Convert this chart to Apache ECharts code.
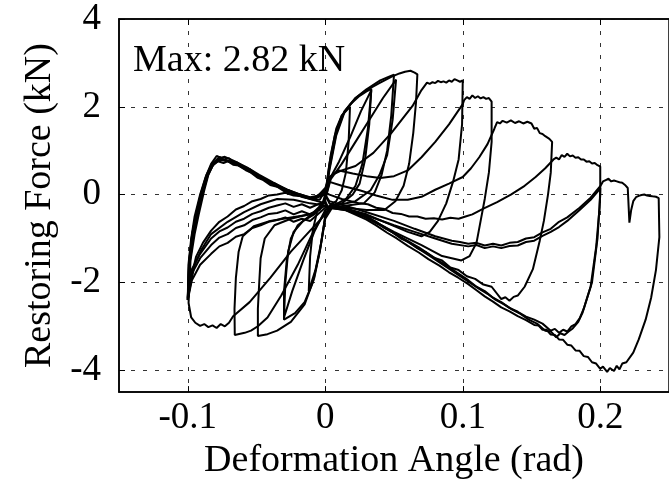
<!DOCTYPE html>
<html>
<head>
<meta charset="utf-8">
<script src="https://cdn.jsdelivr.net/npm/echarts@6/dist/echarts.min.js"></script>
<style>
html,body{margin:0;padding:0;background:#fff;}
#chart{width:669px;height:485px;}
</style>
</head>
<body>
<div id="chart"></div>
<script>
// Tick values
const xTicks = [-0.1, 0, 0.1, 0.2];
const yTicks = [-4, -2, 0, 2, 4];
const annotation = "Max: 2.82 kN";
const xTitle = "Deformation Angle (rad)";
const yTitle = "Restoring Force (kN)";

// Hysteresis cycles, [deformation angle (rad), restoring force (kN)]
const cycle1 = [[0,0],[0.004,0.9],[0.008,1.5],[0.012,1.8],[0.018,2.0],[0.017,1.2],[0.015,0.5],[0.012,0.1],[0.008,-0.15],[0.003,-0.25],[0,-0.5],[-0.003,-1.1],[-0.007,-1.7],[-0.012,-2.2],[-0.011,-1.4],[-0.009,-0.8],[-0.006,-0.4],[-0.002,-0.2],[0,0]];
const cycle2 = [[0,0],[0.003,0.7],[0.007,1.35],[0.012,1.8],[0.018,2.05],[0.025,2.25],[0.03,2.35],[0.0335,2.41],[0.032,1.6],[0.029,0.8],[0.025,0.25],[0.02,0.0],[0.012,-0.2],[0.004,-0.25],[0,-0.5],[-0.004,-1.3],[-0.009,-2.0],[-0.015,-2.45],[-0.022,-2.7],[-0.03,-2.85],[-0.03,-2.2],[-0.028,-1.5],[-0.025,-1.0],[-0.02,-0.7],[-0.012,-0.5],[-0.005,-0.35],[0,-0.1]];
const cycle3 = [[0,-0.1],[0.004,0.4],[0.01,0.75],[0.018,1.3],[0.026,1.9],[0.0335,2.38],[0.031,1.5],[0.027,0.7],[0.022,0.2],[0.015,-0.1],[0.006,-0.25],[0,-0.35],[-0.008,-0.85],[-0.016,-1.5],[-0.024,-2.2],[-0.03,-2.8],[-0.029,-2.0],[-0.027,-1.3],[-0.023,-0.85],[-0.016,-0.6],[-0.008,-0.45],[0,-0.1]];
const cycle4 = [[0,-0.1],[0.003,0.6],[0.008,1.4],[0.014,1.9],[0.022,2.2],[0.03,2.4],[0.04,2.6],[0.046,2.68],[0.05,2.73],[0.048,1.8],[0.045,1.0],[0.041,0.45],[0.036,0.05],[0.028,-0.2],[0.016,-0.25],[0.005,-0.3],[0,-0.55],[-0.004,-1.3],[-0.008,-1.9],[-0.015,-2.5],[-0.025,-2.9],[-0.035,-3.1],[-0.042,-3.18],[-0.049,-3.22],[-0.049,-2.6],[-0.048,-2.0],[-0.047,-1.45],[-0.044,-1.0],[-0.037,-0.7],[-0.025,-0.55],[-0.012,-0.45],[-0.004,-0.35],[0,-0.1]];
const cycle5 = [[0,-0.1],[0.004,0.35],[0.012,0.7],[0.022,1.2],[0.032,1.7],[0.042,2.2],[0.0515,2.62],[0.049,1.7],[0.045,0.9],[0.0395,0.45],[0.033,0.1],[0.022,-0.15],[0.008,-0.25],[0,-0.4],[-0.008,-0.8],[-0.02,-1.6],[-0.032,-2.3],[-0.042,-2.8],[-0.049,-3.0],[-0.054,-3.1],[-0.0586,-3.15],[-0.0658,-3.2],[-0.066,-2.6],[-0.065,-1.9],[-0.063,-1.3],[-0.06,-0.95],[-0.052,-0.72],[-0.04,-0.6],[-0.025,-0.52],[-0.01,-0.45],[0,-0.15]];
const cycle6 = [[0,-0.15],[0.003,0.55],[0.008,1.35],[0.014,1.88],[0.022,2.2],[0.03,2.38],[0.04,2.55],[0.048,2.68],[0.054,2.76],[0.058,2.8],[0.062,2.82],[0.065,2.78],[0.067,2.74],[0.066,2.1],[0.064,1.4],[0.061,0.7],[0.057,0.2],[0.051,-0.15],[0.043,-0.35],[0.03,-0.35],[0.015,-0.3],[0.004,-0.3],[0,-0.45],[-0.011,-0.82],[-0.025,-1.3],[-0.04,-1.9],[-0.055,-2.45],[-0.067,-2.77],[-0.07,-2.92],[-0.073,-3.0],[-0.076,-2.95],[-0.079,-3.04],[-0.082,-2.98],[-0.085,-3.02],[-0.088,-2.95],[-0.091,-2.99],[-0.0945,-2.92],[-0.0975,-2.8],[-0.0994,-2.47],[-0.098,-1.5],[-0.095,-0.9],[-0.092,-0.45],[-0.088,0.1],[-0.085,0.45],[-0.081,0.72],[-0.077,0.86],[-0.074,0.8],[-0.07,0.83],[-0.067,0.74],[-0.064,0.73],[-0.06,0.64],[-0.055,0.58],[-0.05,0.46],[-0.046,0.4],[-0.041,0.3],[-0.036,0.24],[-0.031,0.13],[-0.027,0.1],[-0.022,0.02],[-0.018,0.0],[-0.01,-0.1],[-0.004,-0.12],[0,0.1]];
const cycle7 = [[0,0.1],[0.005,0.45],[0.012,0.55],[0.022,0.65],[0.035,0.95],[0.048,1.4],[0.0635,2.02],[0.07,2.38],[0.074,2.55],[0.076,2.52],[0.078,2.56],[0.08,2.54],[0.082,2.59],[0.084,2.56],[0.086,2.58],[0.088,2.55],[0.09,2.6],[0.092,2.57],[0.094,2.63],[0.096,2.6],[0.098,2.57],[0.1,2.6],[0.0995,1.6],[0.097,0.8],[0.093,0.3],[0.088,-0.2],[0.082,-0.6],[0.076,-0.85],[0.07,-0.95],[0.06,-0.85],[0.045,-0.65],[0.03,-0.45],[0.015,-0.32],[0.004,-0.3],[0,-0.3],[-0.011,-0.6],[-0.017,-0.55],[-0.023,-0.62],[-0.029,-0.52],[-0.035,-0.58],[-0.041,-0.62],[-0.047,-0.7],[-0.053,-0.76],[-0.059,-0.9],[-0.065,-0.96],[-0.071,-1.1],[-0.077,-1.18],[-0.083,-1.35],[-0.091,-1.6],[-0.097,-1.95],[-0.1,-2.4],[-0.099,-1.6],[-0.097,-1.0],[-0.094,-0.5],[-0.09,0.0],[-0.086,0.4],[-0.082,0.66],[-0.078,0.76],[-0.074,0.72],[-0.071,0.76],[-0.067,0.68],[-0.063,0.66],[-0.058,0.56],[-0.054,0.5],[-0.049,0.38],[-0.045,0.33],[-0.04,0.22],[-0.035,0.18],[-0.03,0.08],[-0.025,0.04],[-0.016,-0.06],[-0.008,-0.12],[0,0.15]];
const cycle8 = [[0,0.15],[0.003,0.4],[0.01,0.55],[0.02,0.48],[0.03,0.42],[0.04,0.38],[0.05,0.42],[0.06,0.55],[0.07,0.85],[0.08,1.2],[0.09,1.6],[0.1,2.06],[0.101,2.15],[0.103,2.22],[0.105,2.18],[0.107,2.26],[0.109,2.2],[0.111,2.24],[0.113,2.19],[0.115,2.22],[0.117,2.18],[0.119,2.2],[0.121,2.12],[0.122,2.08],[0.121,1.2],[0.119,0.5],[0.116,-0.1],[0.113,-0.6],[0.11,-1.1],[0.105,-1.4],[0.099,-1.5],[0.085,-1.4],[0.07,-1.15],[0.05,-0.85],[0.03,-0.52],[0.015,-0.35],[0.003,-0.3],[0,-0.25],[-0.011,-0.45],[-0.017,-0.38],[-0.023,-0.45],[-0.029,-0.36],[-0.035,-0.42],[-0.041,-0.44],[-0.047,-0.52],[-0.053,-0.58],[-0.059,-0.7],[-0.065,-0.76],[-0.071,-0.9],[-0.077,-0.98],[-0.083,-1.15],[-0.091,-1.45],[-0.097,-1.8],[-0.1,-2.4],[-0.0985,-1.55],[-0.096,-0.95],[-0.093,-0.45],[-0.089,0.05],[-0.085,0.48],[-0.081,0.7],[-0.076,0.8],[-0.069,0.76],[-0.062,0.68],[-0.054,0.54],[-0.045,0.36],[-0.036,0.2],[-0.026,0.06],[-0.017,-0.04],[-0.009,-0.1],[0,0.1]];
const cycle9 = [[0,0.1],[0.002,0.3],[0.012,0.2],[0.025,0.1],[0.037,-0.02],[0.049,-0.12],[0.06,-0.12],[0.07,-0.05],[0.08,0.11],[0.09,0.25],[0.1,0.4],[0.106,0.6],[0.112,0.85],[0.118,1.15],[0.123,1.5],[0.125,1.65],[0.127,1.62],[0.129,1.68],[0.132,1.64],[0.135,1.69],[0.138,1.63],[0.141,1.67],[0.144,1.62],[0.147,1.66],[0.15,1.62],[0.152,1.5],[0.154,1.52],[0.156,1.4],[0.158,1.38],[0.16,1.33],[0.163,1.27],[0.165,1.2],[0.164,0.5],[0.162,0.0],[0.159,-0.6],[0.156,-1.05],[0.151,-1.7],[0.145,-2.1],[0.14,-2.3],[0.137,-2.33],[0.134,-2.42],[0.131,-2.34],[0.128,-2.38],[0.121,-2.1],[0.115,-2.05],[0.109,-1.92],[0.103,-1.86],[0.097,-1.72],[0.091,-1.66],[0.085,-1.5],[0.079,-1.44],[0.073,-1.31],[0.067,-1.22],[0.061,-1.08],[0.055,-1.0],[0.049,-0.86],[0.043,-0.76],[0.037,-0.62],[0.025,-0.42],[0.01,-0.3],[0.002,-0.3],[0,-0.15],[-0.011,-0.3],[-0.017,-0.22],[-0.023,-0.28],[-0.029,-0.2],[-0.035,-0.25],[-0.041,-0.3],[-0.047,-0.38],[-0.053,-0.44],[-0.059,-0.55],[-0.065,-0.62],[-0.071,-0.75],[-0.077,-0.84],[-0.083,-1.0],[-0.091,-1.35],[-0.097,-1.7],[-0.1,-2.4],[-0.099,-1.5],[-0.0965,-0.85],[-0.0935,-0.4],[-0.09,0.05],[-0.086,0.42],[-0.082,0.68],[-0.078,0.82],[-0.072,0.78],[-0.065,0.7],[-0.056,0.56],[-0.047,0.4],[-0.037,0.24],[-0.027,0.1],[-0.018,0.0],[-0.01,-0.08],[0,0.05]];
const cycle10 = [[0,0.05],[0.003,0.0],[0.012,-0.1],[0.025,-0.2],[0.031,-0.22],[0.037,-0.3],[0.043,-0.33],[0.049,-0.42],[0.055,-0.44],[0.061,-0.5],[0.067,-0.5],[0.073,-0.55],[0.079,-0.54],[0.085,-0.57],[0.091,-0.53],[0.097,-0.55],[0.102,-0.5],[0.107,-0.45],[0.115,-0.32],[0.125,-0.17],[0.135,0.0],[0.145,0.2],[0.153,0.4],[0.16,0.6],[0.166,0.8],[0.168,0.84],[0.17,0.8],[0.172,0.9],[0.174,0.86],[0.176,0.93],[0.178,0.87],[0.18,0.89],[0.182,0.84],[0.184,0.85],[0.186,0.8],[0.188,0.8],[0.19,0.75],[0.192,0.76],[0.194,0.71],[0.196,0.72],[0.198,0.67],[0.2,0.64],[0.2,0.0],[0.198,-1.0],[0.194,-2.0],[0.188,-2.6],[0.185,-2.82],[0.182,-2.95],[0.179,-3.0],[0.176,-3.12],[0.173,-3.08],[0.17,-3.15],[0.167,-3.06],[0.164,-3.1],[0.158,-2.94],[0.152,-2.85],[0.146,-2.78],[0.14,-2.67],[0.134,-2.58],[0.128,-2.45],[0.122,-2.35],[0.116,-2.2],[0.11,-2.1],[0.104,-1.95],[0.092,-1.7],[0.08,-1.45],[0.068,-1.2],[0.055,-0.97],[0.042,-0.72],[0.03,-0.5],[0.012,-0.3],[0.002,-0.28],[0,-0.2],[-0.011,-0.1],[-0.017,-0.04],[-0.023,-0.02],[-0.029,0.04],[-0.035,0.0],[-0.041,-0.02],[-0.047,-0.1],[-0.053,-0.15],[-0.059,-0.26],[-0.065,-0.34],[-0.071,-0.5],[-0.077,-0.62],[-0.083,-0.82],[-0.089,-1.1],[-0.094,-1.42],[-0.099,-2.1],[-0.1,-2.4],[-0.0995,-1.6],[-0.0975,-1.0],[-0.095,-0.5],[-0.091,0.0],[-0.087,0.4],[-0.083,0.7],[-0.079,0.88],[-0.076,0.84],[-0.073,0.86],[-0.066,0.76],[-0.057,0.62],[-0.048,0.45],[-0.038,0.28],[-0.028,0.12],[-0.019,0.01],[-0.011,-0.06],[0,0.0]];
const cycle11 = [[0,0.0],[0.003,-0.2],[0.025,-0.42],[0.05,-0.7],[0.065,-0.85],[0.08,-1.0],[0.092,-1.12],[0.104,-1.18],[0.11,-1.15],[0.116,-1.22],[0.122,-1.18],[0.128,-1.22],[0.134,-1.17],[0.14,-1.16],[0.146,-1.08],[0.152,-1.05],[0.158,-0.94],[0.164,-0.85],[0.17,-0.74],[0.176,-0.6],[0.185,-0.35],[0.193,-0.12],[0.199,0.1],[0.2,0.15],[0.1995,-0.3],[0.197,-1.2],[0.193,-2.1],[0.187,-2.7],[0.184,-2.9],[0.18,-3.05],[0.177,-3.12],[0.174,-3.2],[0.171,-3.16],[0.168,-3.25],[0.164,-3.12],[0.16,-3.1],[0.154,-2.94],[0.148,-2.85],[0.142,-2.72],[0.136,-2.62],[0.13,-2.5],[0.124,-2.4],[0.118,-2.26],[0.112,-2.15],[0.1,-1.9],[0.088,-1.65],[0.076,-1.4],[0.064,-1.16],[0.052,-0.92],[0.04,-0.7],[0.028,-0.5],[0.012,-0.32],[0.002,-0.3],[0,-0.25],[-0.011,-0.2],[-0.023,-0.12],[-0.035,-0.1],[-0.047,-0.22],[-0.059,-0.4],[-0.071,-0.62],[-0.083,-0.9],[-0.09,-1.25],[-0.095,-1.6],[-0.1,-2.35],[-0.099,-1.55],[-0.097,-0.95],[-0.094,-0.45],[-0.0905,0.02],[-0.0865,0.44],[-0.0825,0.7],[-0.0785,0.8],[-0.072,0.77],[-0.064,0.68],[-0.055,0.52],[-0.046,0.36],[-0.036,0.2],[-0.026,0.07],[-0.017,-0.04],[-0.009,-0.1],[0,0.0]];
const cycle12 = [[0,0.0],[0.003,-0.15],[0.025,-0.35],[0.05,-0.6],[0.065,-0.78],[0.08,-0.95],[0.092,-1.05],[0.098,-1.08],[0.104,-1.12],[0.11,-1.1],[0.116,-1.16],[0.122,-1.12],[0.128,-1.16],[0.134,-1.1],[0.14,-1.08],[0.146,-1.0],[0.152,-0.97],[0.158,-0.86],[0.164,-0.78],[0.17,-0.62],[0.176,-0.52],[0.185,-0.3],[0.193,-0.07],[0.2,0.19],[0.202,0.3],[0.204,0.33],[0.206,0.36],[0.208,0.3],[0.21,0.32],[0.212,0.3],[0.214,0.28],[0.216,0.27],[0.218,0.22],[0.22,0.15],[0.221,0.12],[0.2212,-0.64],[0.2225,-0.35],[0.224,-0.15],[0.226,-0.06],[0.228,-0.03],[0.23,-0.01],[0.232,0.0],[0.234,-0.02],[0.236,-0.03],[0.238,-0.04],[0.2405,-0.05],[0.2425,-0.08],[0.243,-0.97],[0.2405,-1.72],[0.237,-2.35],[0.233,-2.85],[0.228,-3.3],[0.224,-3.6],[0.219,-3.82],[0.216,-3.85],[0.214,-3.98],[0.212,-3.9],[0.21,-4.02],[0.207,-3.95],[0.205,-4.04],[0.202,-3.92],[0.2,-3.97],[0.197,-3.85],[0.194,-3.82],[0.191,-3.7],[0.188,-3.68],[0.185,-3.56],[0.182,-3.55],[0.179,-3.44],[0.176,-3.42],[0.173,-3.31],[0.17,-3.3],[0.167,-3.2],[0.164,-3.19],[0.161,-3.08],[0.158,-3.08],[0.155,-2.98],[0.152,-2.97],[0.146,-2.86],[0.14,-2.77],[0.134,-2.66],[0.128,-2.57],[0.122,-2.44],[0.116,-2.32],[0.11,-2.18],[0.104,-2.04],[0.097,-1.9],[0.09,-1.77],[0.083,-1.62],[0.075,-1.47],[0.068,-1.32],[0.06,-1.17],[0.052,-1.0],[0.045,-0.87],[0.037,-0.7],[0.03,-0.57],[0.015,-0.36],[0.003,-0.3]];

const cycles = [cycle1, cycle2, cycle3, cycle4, cycle5, cycle6, cycle7, cycle8, cycle9, cycle10, cycle11, cycle12];

const FONT = '"Liberation Serif", "Times New Roman", serif';
const chart = echarts.init(document.getElementById('chart'), null, {renderer: 'canvas'});

const series = cycles.map((c, i) => ({
  type: 'line',
  name: 'cycle' + (i + 1),
  data: c,
  xAxisIndex: 0,
  yAxisIndex: 0,
  showSymbol: false,
  symbol: 'none',
  smooth: false,
  clip: true,
  lineStyle: {color: '#000', width: 2},
  z: 3
}));

const option = {
  animation: false,
  backgroundColor: '#fff',
  grid: {left: 119, top: 19, right: -8, bottom: 89, containLabel: false,
         show: true, borderColor: '#000', borderWidth: 1.5, backgroundColor: 'transparent'},
  xAxis: [{
    type: 'value', min: -0.15, max: 0.25, position: 'bottom',
    name: xTitle, nameLocation: 'middle', nameGap: 40,
    nameTextStyle: {fontFamily: FONT, fontSize: 38, color: '#000'},
    axisLine: {show: true, onZero: false, lineStyle: {color: '#000', width: 1.5}},
    axisTick: {show: true, inside: true, length: 6, customValues: xTicks, lineStyle: {color: '#000', width: 1}},
    axisLabel: {show: true, customValues: xTicks, margin: 8, fontFamily: FONT, fontSize: 37, color: '#000',
                formatter: v => String(Math.round(v * 10) / 10)},
    splitLine: {show: true, lineStyle: {color: '#333', width: 1, type: [4, 8]}}
  }, {
    type: 'value', min: -0.15, max: 0.25, position: 'top',
    axisLine: {show: true, onZero: false, lineStyle: {color: '#000', width: 1.5}},
    axisTick: {show: true, inside: true, length: 6, customValues: xTicks, lineStyle: {color: '#000', width: 1}},
    axisLabel: {show: false},
    splitLine: {show: false}
  }],
  yAxis: [{
    type: 'value', min: -4.5, max: 4,
    name: yTitle, nameLocation: 'middle', nameGap: 58, nameRotate: 90,
    nameTextStyle: {fontFamily: FONT, fontSize: 38, color: '#000'},
    axisLine: {show: true, onZero: false, lineStyle: {color: '#000', width: 1.5}},
    axisTick: {show: true, inside: true, length: 6, customValues: yTicks, lineStyle: {color: '#000', width: 1}},
    axisLabel: {show: true, customValues: yTicks, margin: 18, fontFamily: FONT, fontSize: 37, color: '#000'},
    splitLine: {show: true, lineStyle: {color: '#333', width: 1, type: [4, 8]}}
  }],
  graphic: [{
    type: 'text', left: 133, top: 42, z: 10,
    style: {text: annotation, fontFamily: FONT, fontSize: 38, fill: '#000'}
  }],
  series: series
};
chart.setOption(option);
</script>
</body>
</html>
